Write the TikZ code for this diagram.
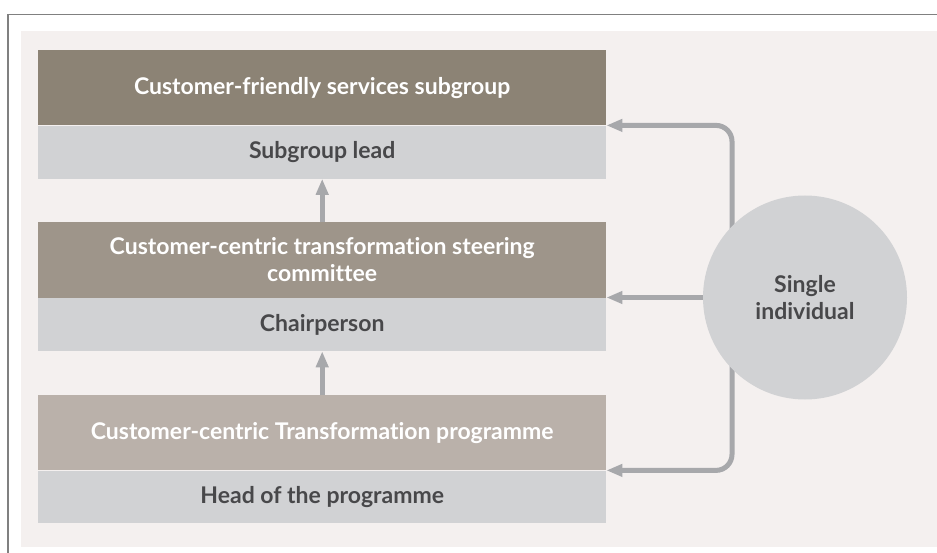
\documentclass[tikz,border=0pt]{standalone}
\usepackage{fontspec}
\setmainfont{Lato}[Ligatures=NoCommon]
\usetikzlibrary{arrows.meta}
\definecolor{frameline}{HTML}{808080}
\definecolor{panel}{HTML}{F4F0EF}
\definecolor{tierA}{HTML}{8C8375}
\definecolor{tierB}{HTML}{9E958A}
\definecolor{tierC}{HTML}{BAB1AA}
\definecolor{rolegray}{HTML}{D1D2D4}
\definecolor{linkgray}{HTML}{A7A8AB}
\definecolor{ink}{HTML}{48484A}
\pgfdeclarelayer{base}
\pgfdeclarelayer{links}
\pgfsetlayers{base,links,main}
\begin{document}
\begin{tikzpicture}[x=1pt,y=-1pt,
  labelfont/.style={font=\bfseries\fontsize{23}{27}\selectfont},
  tier/.style={anchor=north west, minimum width=568pt, inner sep=0pt,
    text=white, align=center, labelfont},
  role/.style={anchor=north west, minimum width=568pt, inner sep=0pt,
    fill=rolegray, text=ink, align=center, labelfont},
  link/.style={draw=linkgray, line width=5pt,
    -{Triangle[length=16pt,width=12pt]}}]
\useasboundingbox (0,0) rectangle (937,553);
\begin{pgfonlayer}{base}
  \fill[white] (0,0) rectangle (937,553);
  \fill[panel] (21,31) rectangle (937,547);
  \draw[frameline, line width=1.5pt] (8,553) -- (8,14.5) -- (937,14.5);
\end{pgfonlayer}

% three governance tiers, each with its lead role underneath
\node[tier, fill=tierA, minimum height=75pt] (subgroup) at (38,50)
  {Customer-friendly services subgroup};
\node[role, minimum height=53pt] (lead) at (subgroup.south west) {Subgroup lead};

\node[tier, fill=tierB, minimum height=75.5pt] (steer) at (38,222)
  {Customer-centric transformation steering\\committee};
\node[role, minimum height=53pt] (chair) at (steer.south west) {Chairperson};

\node[tier, fill=tierC, minimum height=75pt] (programme) at (38,395)
  {Customer-centric Transformation programme};
\node[role, minimum height=52.5pt] (head) at (programme.south west) {Head of the programme};

% the one person holding all three roles
\node[circle, fill=rolegray, minimum size=204pt, inner sep=0pt, text=ink,
  align=center, labelfont] (single) at (805,297.5) {Single\\individual};

\coordinate (bus) at (732,297.5);
\begin{pgfonlayer}{links}
  \draw[link] (single.west) -- (single.west -| chair.north east);
  \draw[link, rounded corners=16pt] (bus) |- (lead.north east);
  \draw[link, rounded corners=16pt] (bus) |- (head.north east);
  \draw[link] (steer.north) -- (lead.south);
  \draw[link] (programme.north) -- (chair.south);
\end{pgfonlayer}
\end{tikzpicture}
\end{document}
